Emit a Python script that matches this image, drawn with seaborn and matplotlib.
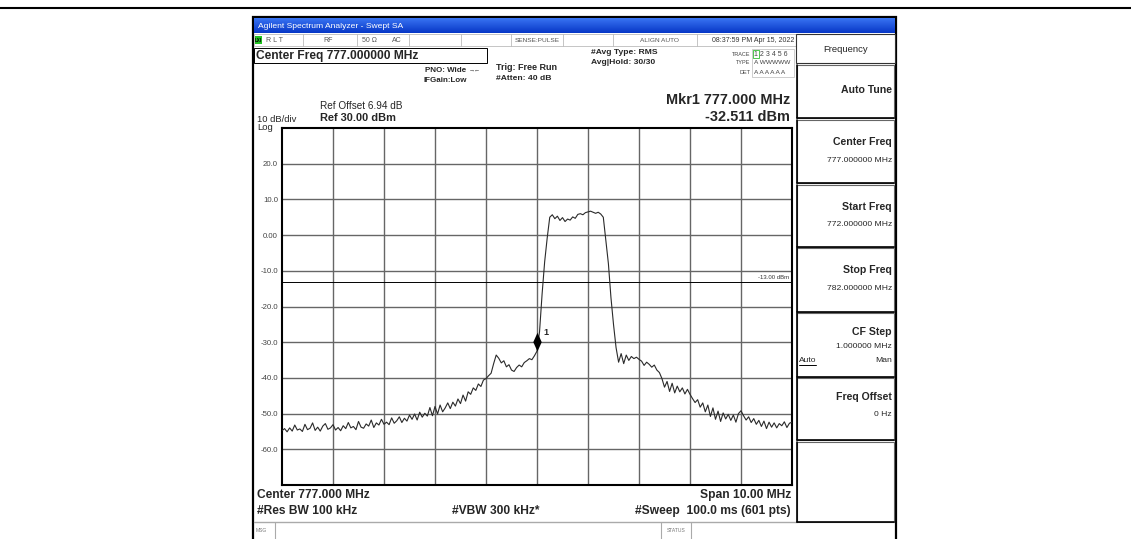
"""
频谱仪截图重绘 - Agilent Swept SA
"""

import numpy as np
import pandas as pd
import matplotlib
matplotlib.use("Agg")
import matplotlib.pyplot as plt
import seaborn as sns
from matplotlib.patches import Rectangle
from matplotlib.path import Path
from matplotlib.markers import MarkerStyle

# ---- 数据 ----
start_mhz = 772.0
stop_mhz = 782.0
trace_dbm = [
    -54.8, -54.2, -55.1, -54.0, -54.9, -53.2, -54.6, -54.3, -55.0, -53.0,
    -54.5, -54.1, -52.6, -54.7, -53.8, -54.9, -53.5, -52.8, -54.4, -54.0,
    -53.1, -54.6, -53.9, -54.8, -53.4, -54.2, -52.5, -54.0, -53.6, -54.5,
    -52.2, -53.8, -54.1, -52.9, -53.5, -51.8, -53.9, -52.6, -53.2, -51.6,
    -53.0, -52.4, -53.1, -51.2, -52.7, -52.0, -50.9, -52.5, -51.3, -52.1,
    -50.4, -51.6, -50.1, -51.8, -49.6, -51.0, -49.9, -50.7, -48.3, -50.6,
    -48.0, -50.1, -47.6, -49.5, -48.4, -47.0, -48.6, -46.8, -47.9, -45.9,
    -47.2, -44.8, -46.5, -43.9, -44.6, -42.8, -43.5, -41.7, -42.4, -40.6,
    -40.2, -39.4, -38.7, -36.0, -33.6, -34.5, -35.8, -35.2, -36.9, -36.3,
    -37.8, -38.2, -37.1, -36.4, -36.9, -35.7, -35.2, -34.6, -34.9, -33.8,
    -32.5, -27.0, -16.5, -7.5, -0.8, 5.0, 5.7, 4.6, 5.3, 4.1,
    4.9, 3.8, 4.5, 4.2, 5.1, 4.7, 5.8, 6.0, 5.7, 6.3,
    6.5, 6.7, 6.4, 6.1, 6.4, 5.9, 5.0, -1.5, -8.0, -17.5,
    -25.0, -31.5, -35.6, -33.2, -36.0, -33.6, -35.1, -34.0, -34.6, -34.2,
    -34.8, -35.3, -36.5, -35.6, -36.2, -37.0, -36.4, -37.8, -38.5, -40.2,
    -42.6, -41.0, -43.8, -41.5, -44.2, -42.3, -43.9, -42.8, -44.5, -43.2,
    -44.6, -45.8, -46.9, -46.1, -48.2, -47.0, -49.5, -47.6, -50.8, -48.4,
    -51.6, -49.3, -52.2, -49.8, -51.5, -50.2, -51.9, -50.4, -52.4, -50.0,
    -49.2, -50.6, -51.8, -50.9, -52.5, -51.4, -53.0, -51.9, -53.6, -52.1,
    -54.2, -52.4, -53.8, -52.6, -54.0, -52.8, -53.4, -52.3, -53.9, -52.7,
    -52.4,
]
marker_freq = 777.0
marker_dbm = -32.511
display_line_dbm = -13.0
ref_level = 30.0
db_per_div = 10.0
y_ticks = [20, 10, 0, -10, -20, -30, -40, -50, -60]
y_tick_labels = ["20.0", "10.0", "0.00", "-10.0", "-20.0", "-30.0", "-40.0", "-50.0", "-60.0"]
softkey_titles = ["Auto Tune", "Center Freq", "Start Freq", "Stop Freq", "CF Step", "Freq Offset", ""]
softkey_values = ["", "777.000000 MHz", "772.000000 MHz", "782.000000 MHz", "1.000000 MHz", "0 Hz", ""]

# ---- 画布 ----
W, H = 1131, 539
sns.set_style("white")
plt.rcParams["font.family"] = ["Liberation Sans", "DejaVu Sans"]

fig = plt.figure(figsize=(W / 100, H / 100), dpi=100)
bg = fig.add_axes([0, 0, 1, 1])
bg.axis("off")


def txt(x, y, s, px, **kw):
    kw.setdefault("va", "center")
    bg.text(x, y, s, fontsize=px * 0.72, **kw)


def rect(x0, y0, x1, y1, **kw):
    bg.add_patch(Rectangle((x0, y0), x1 - x0, y1 - y0, **kw))


# 外框
bg.plot([0, W], [8, 8], color="black", lw=1.5)
rect(253, 17, 896, 545, facecolor="white", edgecolor="black", lw=1.6)

# 标题栏 (渐变蓝)
grad = np.linspace(0, 1, 16)[:, None, None]
top_c = np.array([0.22, 0.45, 0.95])
bot_c = np.array([0.03, 0.22, 0.78])
bar = np.broadcast_to(top_c * (1 - grad) + bot_c * grad, (16, 2, 3))
bg.imshow(bar, extent=(254, 895, 33, 18), aspect="auto", interpolation="bilinear", zorder=2)
txt(258, 26, "Agilent Spectrum Analyzer - Swept SA", 8.5, color="white", zorder=3)

# 状态行
rect(254, 34, 796, 46, facecolor="white", edgecolor="#bbbbbb", lw=0.6)
for sx in [303, 357, 409, 461, 511, 563, 613, 697]:
    bg.plot([sx, sx], [34, 46], color="#bbbbbb", lw=0.6)
rect(255, 36, 262, 44, facecolor="#22c322", edgecolor="none")
txt(258.5, 40, "LXI", 4.5, ha="center", color="black", fontweight="bold")
status_color = "#555555"
txt(266, 40, "R L T", 7, color=status_color)
txt(328, 40, "RF", 7, ha="center", color=status_color)
txt(362, 40, "50 Ω", 7, color=status_color)
txt(392, 40, "AC", 7, color=status_color)
txt(537, 40, "SENSE:PULSE", 6.5, ha="center", color=status_color)
txt(659, 40, "ALIGN AUTO", 6.5, ha="center", color=status_color)
txt(794, 40, "08:37:59 PM Apr 15, 2022", 7, ha="right", color="#333333")

# 中心频率框
rect(254, 48, 487, 63, facecolor="white", edgecolor="black", lw=0.7)
txt(256, 56, "Center Freq 777.000000 MHz", 12, fontweight="bold")

txt(466, 70, "PNO: Wide", 8, ha="right", fontweight="bold")
txt(469, 70, "→←", 6, color="#333333")
txt(467, 80, "IFGain:Low", 8, ha="right", fontweight="bold")
txt(496, 68, "Trig: Free Run", 9, fontweight="bold")
txt(496, 78, "#Atten: 40 dB", 8.5, fontweight="bold")
txt(591, 53, "#Avg Type: RMS", 8.5, fontweight="bold")
txt(591, 63, "Avg|Hold: 30/30", 8.5, fontweight="bold")

# trace 状态块
rect(752, 49, 794, 77, facecolor="white", edgecolor="#bbbbbb", lw=0.5)
txt(750, 54, "TRACE", 5.5, ha="right", color="#444444")
txt(750, 63, "TYPE", 5.5, ha="right", color="#444444")
txt(750, 72, "DET", 5.5, ha="right", color="#444444")
rect(753, 50, 759, 58, facecolor="none", edgecolor="#33bb33", lw=0.6)
txt(754, 54, "1 2 3 4 5 6", 7, color="#444444")
txt(754, 63, "A WWWWW", 6.5, color="#444444")
txt(754, 72, "A A A A A A", 6.5, color="#444444")

# 标记读数
txt(790, 100, "Mkr1 777.000 MHz", 14.5, ha="right", fontweight="bold")
txt(790, 117, "-32.511 dBm", 14.5, ha="right", fontweight="bold")

# 参考电平
txt(320, 106, "Ref Offset 6.94 dB", 10)
txt(320, 118, "Ref 30.00 dBm", 11, fontweight="bold")
txt(257, 119, "10 dB/div", 9.5)
txt(257, 127, "Log", 9.5)

# 底部信息
txt(257, 495, "Center 777.000 MHz", 12, fontweight="bold")
txt(257, 511, "#Res BW 100 kHz", 12, fontweight="bold")
txt(452, 511, "#VBW 300 kHz*", 12, fontweight="bold")
txt(791, 495, "Span 10.00 MHz", 12, ha="right", fontweight="bold")
txt(791, 511, "#Sweep  100.0 ms (601 pts)", 12, ha="right", fontweight="bold")

# 消息栏
bg.plot([254, 797], [522, 522], color="#aaaaaa", lw=1.0)
bg.plot([275, 275], [522, 539], color="#aaaaaa", lw=0.8)
bg.plot([661, 661], [522, 539], color="#aaaaaa", lw=0.8)
bg.plot([691, 691], [522, 539], color="#aaaaaa", lw=0.8)
txt(256, 531, "MSG", 5, color="#777777")
txt(676, 531, "STATUS", 5, ha="center", color="#777777")

# 右侧软键
rect(796, 34, 895, 63, facecolor="white", edgecolor="#333333", lw=0.8)
txt(846, 49, "Frequency", 9.5, ha="center")
key_tops = [65, 120, 185, 248, 313, 378, 442]
key_bots = [118, 183, 247, 312, 377, 440, 522]
for i, (title, value) in enumerate(zip(softkey_titles, softkey_values)):
    y0, y1 = key_tops[i], key_bots[i]
    rect(797, y0, 894, y1, facecolor="white", edgecolor="#666666", lw=0.8)
    bg.plot([797, 797], [y0, y1], color="black", lw=1.2)
    bg.plot([797, 894], [y1, y1], color="black", lw=1.2)
    if not title:
        continue
    if i == 0:
        txt(892, y0 + 25, title, 10.5, ha="right", fontweight="bold")
    elif title == "CF Step":
        txt(892, y0 + 19, title, 10.5, ha="right", fontweight="bold")
        txt(892, y0 + 34, value, 8.5, ha="right")
        txt(799, y0 + 47, "Auto", 8.5)
        bg.plot([799, 816], [y0 + 52, y0 + 52], color="black", lw=0.7)
        txt(892, y0 + 47, "Man", 8.5, ha="right")
    else:
        off = 22 if i < 4 else 19
        txt(892, y0 + off, title, 10.5, ha="right", fontweight="bold")
        txt(892, y0 + off + 18, value, 8.5, ha="right")

bg.set_xlim(0, W)
bg.set_ylim(H, 0)

# ---- 频谱图 ----
ax = fig.add_axes([282 / W, (H - 485) / H, 510 / W, 357 / H])
df = pd.DataFrame({
    "freq": np.linspace(start_mhz, stop_mhz, len(trace_dbm)),
    "dbm": trace_dbm,
})
ax.set_facecolor("white")
ax.grid(True, color="#666666", lw=1.0)
ax.set_axisbelow(True)
ax.axhline(display_line_dbm, color="black", lw=0.7, zorder=2)
sns.lineplot(data=df, x="freq", y="dbm", ax=ax, color="#2a2a2a", lw=0.8,
             estimator=None, zorder=3)

diamond = MarkerStyle(Path([(0, 0), (0.45, 1), (0, 2), (-0.45, 1), (0, 0)],
                           [Path.MOVETO, Path.LINETO, Path.LINETO, Path.LINETO, Path.CLOSEPOLY]))
ax.plot([marker_freq], [marker_dbm], marker=diamond, ms=27, color="black",
        markeredgewidth=0, zorder=4)
ax.annotate("1", xy=(marker_freq, marker_dbm), xytext=(4.5, 13.5),
            textcoords="offset points", fontsize=6.5, fontweight="bold",
            ha="left", va="center")
ax.text(stop_mhz - 0.05, display_line_dbm + 0.4, "-13.00 dBm", fontsize=4.3,
        ha="right", va="bottom", color="#333333")

ax.set_xlim(start_mhz, stop_mhz)
ax.set_ylim(ref_level - 10 * db_per_div, ref_level)
ax.set_xticks(np.arange(start_mhz + 1, stop_mhz))
ax.set_xticklabels([])
ax.set_yticks(y_ticks)
ax.set_yticklabels(y_tick_labels, fontsize=5.6, color="#444444")
ax.tick_params(length=0, pad=2.9)
ax.set_xlabel("")
ax.set_ylabel("")
for sp in ax.spines.values():
    sp.set_visible(True)
    sp.set_color("black")
    sp.set_linewidth(1.5)

fig.savefig("out.png", dpi=100)
plt.close(fig)
